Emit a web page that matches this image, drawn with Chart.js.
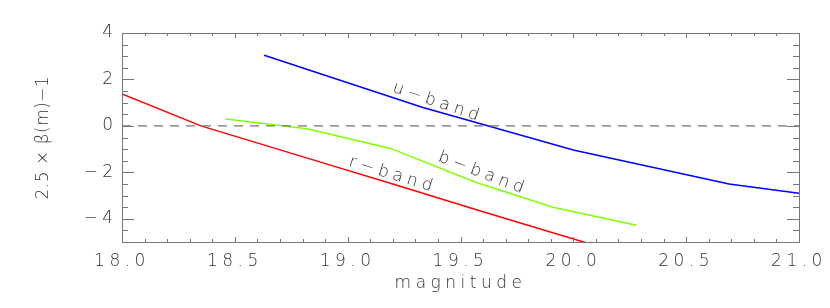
<!DOCTYPE html>
<html>
<head>
<meta charset="utf-8">
<script src="https://cdn.jsdelivr.net/npm/chart.js@4.4.1/dist/chart.umd.min.js"></script>
<style>
  html, body { margin: 0; padding: 0; background: #fff; }
  canvas { display: block; }
</style>
</head>
<body>
<canvas id="myChart" width="830" height="308"></canvas>
<script>
// values: magnitude vs 2.5 x beta(m) - 1
const uMag = [18.63, 19.33, 20.0, 20.69, 21.0];
const uVal = [3.04, 0.80, -1.04, -2.50, -2.90];
const bMag = [18.46, 18.82, 19.19, 19.57, 19.91, 20.28];
const bVal = [0.30, -0.12, -0.97, -2.44, -3.50, -4.28];
const rMag = [18.0, 18.35, 18.92, 19.2, 19.6, 20.08];
const rVal = [1.38, 0.0, -1.68, -2.50, -3.70, -5.10];
const zeroMag = [18.0, 21.0];
const zeroVal = [0, 0];

const xTicks = [18.0, 18.5, 19.0, 19.5, 20.0, 20.5, 21.0];
const yTicks = [-4, -2, 0, 2, 4];

// band names written along the curves (data coordinates, angle in degrees)
const bandNames = ["u\u2212band", "b\u2212band", "r\u2212band"];
const bandMag = [19.40, 19.60, 19.20];
const bandVal = [1.0, -2.06, -2.11];
const bandAngle = [19, 21, 17];

const FONT = "'DejaVu Sans', sans-serif";
const TXT = "#333";
const SIZE = 17;

function pts(xs, ys) {
    return xs.map((v, i) => ({ x: v, y: ys[i] }));
}

const spacing = {
    id: "spacing",
    beforeDraw(chart) {
        chart.ctx.letterSpacing = "4.5px";
    }
};

const frame = {
    id: "frame",
    afterDatasetsDraw(chart) {
        const { ctx, chartArea: a, scales: { x, y } } = chart;
        ctx.save();
        ctx.strokeStyle = "#777";
        ctx.lineWidth = 1;
        ctx.strokeRect(a.left + 0.5, a.top + 0.5, a.right - a.left, a.bottom - a.top);
        ctx.beginPath();
        for (let i = 0; i <= Math.round((x.max - x.min) * 10); i++) {
            const v = x.min + i / 10;
            const px = Math.round(x.getPixelForValue(v)) + 0.5;
            const len = i % 5 === 0 ? 5 : 3;
            ctx.moveTo(px, a.bottom); ctx.lineTo(px, a.bottom - len);
            ctx.moveTo(px, a.top); ctx.lineTo(px, a.top + len);
        }
        for (let i = 0; i <= Math.round((y.max - y.min) * 2); i++) {
            const v = y.min + i / 2;
            const py = Math.round(y.getPixelForValue(v)) + 0.5;
            const len = v % 2 === 0 ? 12 : 6;
            ctx.moveTo(a.left, py); ctx.lineTo(a.left + len, py);
            ctx.moveTo(a.right, py); ctx.lineTo(a.right - len, py);
        }
        ctx.stroke();
        ctx.restore();
    },
    afterDraw(chart) {
        const { ctx, chartArea: a, scales: { x, y } } = chart;
        ctx.save();
        ctx.fillStyle = TXT;
        ctx.font = "200 " + SIZE + "px " + FONT;
        ctx.textAlign = "center";
        ctx.textBaseline = "middle";
        ctx.letterSpacing = "4.5px";
        bandNames.forEach((name, i) => {
            ctx.save();
            ctx.translate(x.getPixelForValue(bandMag[i]), y.getPixelForValue(bandVal[i]));
            ctx.rotate(bandAngle[i] * Math.PI / 180);
            ctx.fillText(name, 0, 0);
            ctx.restore();
        });
        // y axis title
        ctx.letterSpacing = "0.5px";
        ctx.translate(44, (a.top + a.bottom) / 2);
        ctx.rotate(-Math.PI / 2);
        ctx.fillText("2.5 \u00d7 \u03b2(m)\u22121", 0, 0);
        ctx.restore();
    }
};

const line = (data, color) => ({
    data: data,
    borderColor: color,
    borderWidth: 1.5,
    pointRadius: 0,
    fill: false,
    tension: 0
});

const tickFont = { family: FONT, size: SIZE, weight: 200 };

new Chart(document.getElementById("myChart").getContext("2d"), {
    type: "line",
    data: {
        datasets: [
            Object.assign(line(pts(zeroMag, zeroVal), "#777"), { borderDash: [9, 7], borderWidth: 1.3 }),
            line(pts(uMag, uVal), "#0000ff"),
            line(pts(bMag, bVal), "#7fff00"),
            line(pts(rMag, rVal), "#ff0000")
        ]
    },
    options: {
        responsive: false,
        animation: false,
        devicePixelRatio: 1,
        layout: { padding: { left: 0, right: 31, top: 33, bottom: 0 } },
        plugins: { legend: { display: false }, tooltip: { enabled: false } },
        scales: {
            x: {
                type: "linear",
                min: 18,
                max: 21,
                afterBuildTicks: (s) => { s.ticks = xTicks.map(v => ({ value: v })); },
                afterFit: (s) => { s.height = 66; },
                grid: { display: false, drawTicks: false },
                border: { display: false },
                ticks: {
                    padding: 9,
                    maxRotation: 0,
                    autoSkip: false,
                    color: TXT,
                    font: tickFont,
                    callback: (v) => Number(v).toFixed(1)
                },
                title: {
                    display: true,
                    text: "magnitude",
                    color: TXT,
                    font: tickFont,
                    padding: { top: 0, bottom: 14 }
                }
            },
            y: {
                type: "linear",
                min: -5,
                max: 4,
                afterBuildTicks: (s) => { s.ticks = yTicks.map(v => ({ value: v })); },
                afterFit: (s) => { s.width = 122; },
                grid: { display: false, drawTicks: false },
                border: { display: false },
                ticks: {
                    padding: 4.5,
                    autoSkip: false,
                    color: TXT,
                    font: tickFont,
                    callback: (v) => v < 0 ? "\u2212" + Math.abs(v) : String(v)
                }
            }
        }
    },
    plugins: [spacing, frame]
});
</script>
</body>
</html>
